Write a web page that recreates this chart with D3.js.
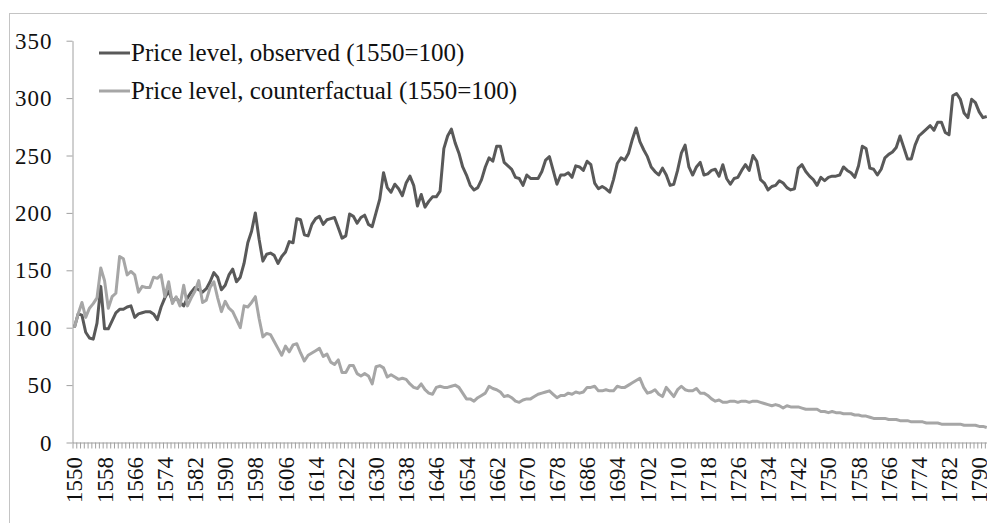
<!DOCTYPE html>
<html><head><meta charset="utf-8">
<script src="https://cdn.jsdelivr.net/npm/d3@7"></script>
<style>body{margin:0;background:#fff;} svg{display:block;}</style>
</head><body>
<script>
const startYear = 1550;
const observed = [
100,112,111,96,91,90,104,136,99,99,
106,113,116,116,118,119,109,112,113,114,
114,112,107,118,126,132,123,126,122,119,
126,131,135,133,131,134,140,148,144,133,
137,146,151,140,144,156,174,184,200,177,
158,164,165,163,156,162,166,175,174,195,
194,181,180,190,195,197,190,194,195,196,
187,178,180,199,197,191,196,198,190,188,
200,212,235,222,218,225,221,215,226,232,
224,206,216,205,210,214,214,219,256,267,
273,261,252,240,233,224,220,222,229,240,
248,245,258,258,244,241,238,231,230,224,
233,230,230,230,236,246,249,237,225,233,
233,235,231,241,240,237,245,242,226,221,
223,221,218,229,243,248,246,252,264,274,
262,255,249,240,236,233,239,233,224,225,
237,252,259,240,233,240,244,233,234,237,
238,232,242,230,225,230,231,237,242,237,
250,245,229,226,220,223,224,228,226,222,
220,221,239,242,236,232,229,224,231,228,
231,232,232,233,240,237,235,231,241,258,
256,239,238,233,238,248,251,253,257,267,
257,247,247,259,267,270,273,276,272,279,
279,270,268,302,304,299,287,283,299,296,
288,283,284
];
const counterfactual = [
100,112,122,109,117,121,126,152,141,117,
127,130,162,160,146,149,146,131,136,135,
135,144,143,146,127,140,121,127,119,137,
119,126,132,141,122,124,135,140,126,114,
123,117,114,107,100,119,118,122,127,108,
92,95,94,88,82,76,84,79,85,86,
78,71,76,78,80,82,75,77,70,68,
72,61,61,67,67,60,58,60,58,51,
66,67,65,57,59,57,55,56,55,51,
48,47,51,46,43,42,48,49,48,48,
49,50,48,43,38,38,36,39,41,43,
49,47,46,44,40,41,39,36,35,37,
38,38,40,42,43,44,45,42,39,41,
41,43,42,44,43,44,48,48,49,45,
45,46,45,45,49,48,48,50,52,54,
56,48,43,44,46,42,40,48,44,40,
46,49,46,45,45,47,43,43,41,38,
36,37,35,35,36,36,35,36,36,35,
36,36,35,34,33,32,33,32,30,32,
31,31,31,30,29,29,29,29,27,27,
26,27,26,26,25,25,25,24,24,23,
23,22,21,21,21,21,20,20,20,19,
19,19,18,18,18,18,17,17,17,17,
16,16,16,16,16,16,15,15,15,15,
14,14,13
];
const yTicks = [0, 50, 100, 150, 200, 250, 300, 350];
const labelStep = 8;
const seriesNames = ["Price level, observed (1550=100)", "Price level, counterfactual (1550=100)"];
const seriesColors = ["#595959", "#a6a6a6"];

const W = 987, H = 523;
const years = observed.map((d, i) => startYear + i);
const lastYear = 1810;

const svg = d3.select("body").append("svg").attr("width", W).attr("height", H);
svg.append("rect").attr("x", 9.5).attr("y", 13.5).attr("width", 1200).attr("height", 800)
  .attr("fill", "#fff").attr("stroke", "#c4c4c4").attr("stroke-width", 1);

const pxPerYear = 3.77;
const x = d3.scaleLinear().domain([startYear - 0.5, lastYear + 0.5])
  .range([72.5, 72.5 + (lastYear - startYear + 1) * pxPerYear]);
const y = d3.scaleLinear().domain([0, 350]).range([442.5, 40.7]);

const axisColor = "#a0a0a0";
const fontFam = "'Liberation Serif', 'Times New Roman', serif";

// Y axis
const yAxis = svg.append("g").attr("transform", "translate(72.5,0)")
  .call(d3.axisLeft(y).tickValues(yTicks).tickSize(6).tickSizeOuter(0).tickPadding(14).tickFormat(d3.format("d")));
yAxis.select(".domain").attr("stroke", axisColor);
yAxis.selectAll(".tick line").attr("stroke", axisColor);
yAxis.selectAll("text").attr("font-family", fontFam).attr("font-size", 23).attr("fill", "#111")
  .attr("letter-spacing", 1).attr("dy", "0.33em");

// X axis minor ticks at category boundaries
const boundaries = d3.range(startYear - 0.5, lastYear + 1, 1);
const xAxis = svg.append("g").attr("transform", "translate(0,442.5)")
  .call(d3.axisBottom(x).tickValues(boundaries).tickSize(6).tickSizeOuter(0).tickFormat(""));
xAxis.select(".domain").attr("stroke", axisColor);
xAxis.selectAll(".tick line").attr("stroke", axisColor);

// X labels
const labelYears = d3.range(startYear, lastYear + 1, labelStep);
const xLab = svg.append("g").attr("transform", "translate(0,442.5)")
  .call(d3.axisBottom(x).tickValues(labelYears).tickSize(0).tickFormat(d3.format("d")));
xLab.select(".domain").remove();
xLab.selectAll("text")
  .attr("font-family", fontFam).attr("font-size", 23).attr("fill", "#111")
  .attr("text-anchor", "end").attr("transform", "rotate(-90)")
  .attr("x", -14.5).attr("y", 0).attr("dy", "0.33em");

// Lines
const line = d3.line().x((d, i) => x(years[i])).y(d => y(d));
[observed, counterfactual].forEach((s, k) => {
  svg.append("path").datum(s).attr("d", line).attr("fill", "none")
    .attr("stroke", seriesColors[k]).attr("stroke-width", 3).attr("stroke-linejoin", "round");
});

// Legend
const leg = svg.append("g");
seriesNames.forEach((name, k) => {
  const cy = 53 + k * 38;
  leg.append("line").attr("x1", 99).attr("x2", 130).attr("y1", cy).attr("y2", cy)
    .attr("stroke", seriesColors[k]).attr("stroke-width", 3);
  leg.append("text").attr("x", 131).attr("y", cy + 7.5).text(name)
    .attr("font-family", fontFam).attr("font-size", 25).attr("fill", "#111");
});
</script>
</body></html>
